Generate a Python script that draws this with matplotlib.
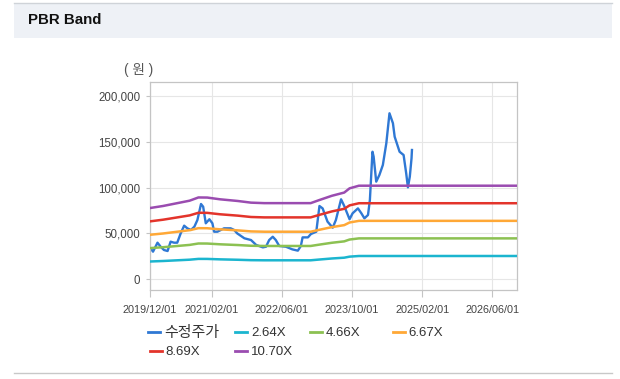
import matplotlib
matplotlib.use("Agg")
import matplotlib.pyplot as plt
import matplotlib.dates as mdates
from matplotlib.lines import Line2D
from matplotlib.patches import Rectangle
import numpy as np
import pandas as pd

plt.rcParams['font.family'] = ['Liberation Sans', 'Noto Sans CJK KR', 'DejaVu Sans']

# ---- data ----
price_dates = ["2019-12-05", "2019-12-22", "2020-01-22", "2020-02-13", "2020-03-07", "2020-04-01",
               "2020-04-22", "2020-05-16", "2020-06-07", "2020-07-01", "2020-07-25", "2020-08-16",
               "2020-09-10", "2020-10-04", "2020-10-25", "2020-11-19", "2020-12-04", "2020-12-22",
               "2021-01-16", "2021-02-06", "2021-02-18", "2021-03-13", "2021-04-28", "2021-06-13",
               "2021-07-07", "2021-07-28", "2021-09-16", "2021-11-01", "2021-12-07", "2022-01-22",
               "2022-02-13", "2022-03-07", "2022-04-01", "2022-04-22", "2022-05-16", "2022-07-01",
               "2022-08-15", "2022-09-22", "2022-10-13", "2022-10-25", "2022-12-01", "2022-12-22",
               "2023-01-28", "2023-02-19", "2023-03-13", "2023-04-16", "2023-05-22", "2023-06-13",
               "2023-07-19", "2023-08-10", "2023-09-16", "2023-10-07", "2023-11-13", "2023-12-07",
               "2023-12-28", "2024-01-22", "2024-02-04", "2024-02-22", "2024-03-01", "2024-03-19",
               "2024-04-10", "2024-05-04", "2024-05-28", "2024-06-19", "2024-07-13", "2024-07-25",
               "2024-08-28", "2024-09-25", "2024-10-13", "2024-10-25", "2024-11-07", "2024-11-19",
               "2024-11-22"]
price_values = [33500, 29900, 39700, 35300, 31700, 30600,
                40800, 39700, 39700, 49900, 58300, 55400,
                53600, 57200, 64500, 82000, 79000, 60900,
                65300, 60900, 51700, 51700, 55400, 55400,
                53600, 49900, 44500, 42600, 37200, 34600,
                35300, 42600, 46200, 42600, 36100, 35300,
                32400, 31000, 36100, 45500, 45500, 49200,
                51700, 79800, 77200, 62700, 56100, 64500,
                87100, 79800, 65300, 71800, 77200, 71800,
                66300, 70000, 86300, 139100, 133700, 106400,
                113700, 124600, 148300, 181100, 170200, 155500,
                139100, 135500, 115500, 100200, 111800, 131900,
                141000]

bps_dates = ["2019-12-01", "2020-03-01", "2020-06-01", "2020-09-01", "2020-11-01", "2021-01-01",
             "2021-04-01", "2021-08-01", "2021-11-01", "2022-02-01", "2022-12-20", "2023-02-19",
             "2023-05-16", "2023-08-10", "2023-09-16", "2023-11-20", "2026-12-01"]
bps_values = [7250, 7460, 7730, 8000, 8330, 8320,
              8140, 7970, 7800, 7750, 7750, 8070,
              8500, 8830, 9260, 9530, 9530]

band_multiples = [2.64, 4.66, 6.67, 8.69, 10.70]
band_labels = ["2.64X", "4.66X", "6.67X", "8.69X", "10.70X"]
band_colors = ["#1bb5cf", "#8cc152", "#ffa836", "#e3342b", "#9a4cb0"]
price_label = "수정주가"
price_color = "#2f78d4"

tick_dates = ["2019-12-01", "2021-02-01", "2022-06-01", "2023-10-01", "2025-02-01", "2026-06-01"]
tick_labels = ["2019/12/01", "2021/02/01", "2022/06/01", "2023/10/01", "2025/02/01", "2026/06/01"]
y_ticks = [0, 50000, 100000, 150000, 200000]

# ---- figure ----
W, H = 620, 379
fig = plt.figure(figsize=(W / 100, H / 100), dpi=100)
fig.patch.set_facecolor("white")

# header band
fig.patches.append(Rectangle((14 / W, 1 - 38 / H), (612 - 14) / W, 35 / H,
                             transform=fig.transFigure, facecolor="#eef1f6",
                             edgecolor="none", zorder=0))
fig.lines.append(Line2D([14 / W, 612 / W], [1 - 2.5 / H, 1 - 2.5 / H], transform=fig.transFigure,
                        color="#cfd3d8", lw=1.0))
fig.lines.append(Line2D([14 / W, 612 / W], [1 - 373 / H, 1 - 373 / H], transform=fig.transFigure,
                        color="#c8c8c8", lw=1.0))
fig.text(28 / W, 1 - 20.5 / H, "PBR Band", fontsize=10.8, fontweight="bold",
         color="#111111", ha="left", va="center")

ax = fig.add_axes([150 / W, 1 - 290 / H, (517 - 150) / W, (290 - 82) / H])
ax.set_facecolor("white")

pdates = pd.to_datetime(price_dates)
bdates = pd.to_datetime(bps_dates)
bps = np.array(bps_values, dtype=float)

ax.plot(pdates, price_values, color=price_color, lw=1.7, zorder=2, solid_joinstyle="round")
for m, c in zip(band_multiples, band_colors):
    ax.plot(bdates, bps * m, color=c, lw=1.8, zorder=3)

ax.set_xlim(pd.Timestamp("2019-12-01"), pd.Timestamp("2026-11-21"))
ax.set_ylim(-12000, 215300)

ax.set_xticks(pd.to_datetime(tick_dates))
ax.set_xticklabels(tick_labels)
ax.set_yticks(y_ticks)
ax.set_yticklabels([f"{v:,}" for v in y_ticks])

ax.grid(True, color="#e6e6e6", lw=0.8, zorder=0)
ax.set_axisbelow(True)
for s in ax.spines.values():
    s.set_color("#c4c4c4")
    s.set_linewidth(0.9)
ax.tick_params(axis="x", length=5, width=0.8, color="#c4c4c4", labelsize=7.8,
               labelcolor="#444444", pad=6)
ax.tick_params(axis="y", length=3, width=0.8, color="#c4c4c4", labelsize=8.3,
               labelcolor="#444444", pad=4)

fig.text(139 / W, 1 - 70 / H, "( 원 )", fontsize=9.8, color="#555555", ha="center", va="center")

# legend (one entry per position)
entries = [(price_label, price_color, 148, 333, 10.8)] + [
    (lab, col, x, y, 9.5) for lab, col, x, y in zip(
        band_labels, band_colors, [235, 310, 393, 150, 235], [333, 333, 333, 352, 352])]
for lab, col, x, y, fs in entries:
    h = Line2D([], [], color=col, lw=2.0)
    fig.legend(handles=[h], labels=[lab], loc="center left",
               bbox_to_anchor=(x / W, 1 - y / H), frameon=False,
               handlelength=0.9 * 9.5 / fs, handletextpad=0.3, borderpad=0, borderaxespad=0,
               fontsize=fs, labelcolor="#333333")

fig.savefig("out.png", dpi=100)
